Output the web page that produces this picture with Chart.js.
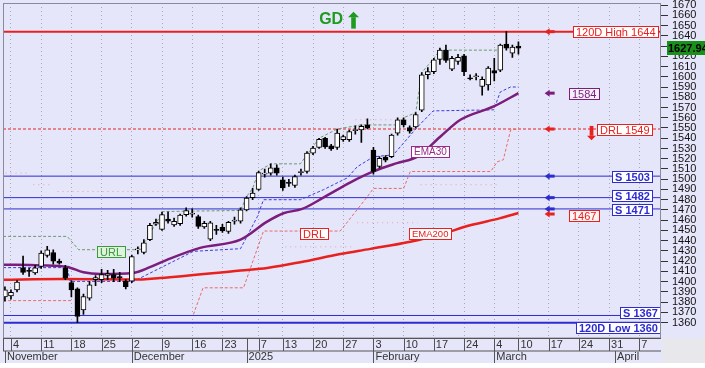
<!DOCTYPE html>
<html>
<head>
<meta charset="utf-8">
<script src="https://cdn.jsdelivr.net/npm/chart.js@4.4.1/dist/chart.umd.min.js"></script>
<style>
  html, body { margin:0; padding:0; background:#fff; }
  #wrap { width:705px; height:368px; }
</style>
</head>
<body>
<div id="wrap"><canvas id="chart" width="705" height="368"></canvas></div>
<script>
// ── Data (x = trading-day index, Nov 4 2024 = 0) ──
const firstDay = -1;
const opens  = [1385,1386,1392,1413.5,1411,1408.5,1415,1425.5,1428.5,1420,1413.5,1399,1393,1372.5,1384,1402,1402,1406,1407,1405,1400.5,
  1400.5,1431,1428.5,1441,1456,1451,1461,1455.5,1456.5,1465.5,1466,1463.5,1453.5,1441.5,1451,1453,1449,1459,1459,1470,
  1482,1490,1505,1506,1511,1499.5,1497,1494,1506.5,1507.5,1525.5,1531,1540,1532.5,1531,1538.5,1538.5,1547.5,1548,1553,
  1528.5,1512.5,1521.5,1522,1545,1558,1550.5,1551,1567.5,1602,1605,1617,1626,1607.5,1615,1620.5,1599,1600,1590.5,1592,
  1606,1606.5,1632,1623,1630];
const highs  = [1395,1392,1401,1425,1413,1416,1430,1434.5,1431,1422,1416,1401,1394,1388,1400,1406,1412,1411,1412,1409,1402,
  1426,1434,1441,1457,1461,1468,1468,1462,1466,1472,1471,1465,1459,1459,1455,1456,1459,1463,1472,1483,
  1491,1508,1510,1515,1514,1502,1500,1504,1510,1527,1532,1540,1541,1534,1549,1543,1548,1552,1553,1559,
  1531,1522,1523,1544,1560,1560,1552,1565,1604,1609,1618,1628,1631,1620,1622,1622,1602,1603,1600,1610,
  1618,1632,1644,1631,1634];
const lows   = [1381,1383,1390,1407,1405,1407,1413,1424,1417,1417,1402,1385,1360,1368,1382,1396,1399,1402,1400,1400,1393,
  1399,1427,1427,1440,1455,1450,1457,1454,1455,1464,1463,1452,1452,1440,1446,1448,1447,1456,1457,1469,
  1480,1489,1502,1504,1504,1489,1493,1492,1504,1506,1524,1530,1530,1528,1529,1537,1537,1544,1536,1549,
  1505,1511,1517,1521,1543,1551,1545,1550,1566,1598,1603,1612,1614,1606,1612,1601,1597,1597,1582,1587,
  1596,1605,1626,1619,1622];
const closes = [1392,1389.5,1399.5,1409,1410,1413.5,1428,1431,1420,1418,1403.5,1392,1366,1385.5,1397,1404,1407,1408,1403.5,1404,1395,
  1424.5,1432,1438,1455,1458,1465.5,1459,1459,1465,1469.5,1467,1454,1457,1457.5,1450,1449.5,1458,1460,1470,1481.5,
  1486.5,1506.5,1506,1511,1506,1491.5,1496,1502.5,1507.5,1525.5,1530.5,1539,1531.5,1529.5,1545,1541.5,1546.5,1548.5,1551.5,1550,
  1507.5,1520.5,1518.5,1543,1558,1553,1547,1563,1602,1605,1616.5,1626,1616,1618,1619,1605,1598,1601,1597.5,1608.5,
  1603.5,1631,1628,1629,1627.94];

const ema30Days  = [-1.3,4.9,9.3,12,14.8,20.2,23.1,25.9,31.3,38,42.4,45.1,48.2,51.7,56.2,60,63.9,67.3,71.1,74.4,79.9,84];
const ema30Vals  = [1416.6,1415.9,1414.4,1409.1,1407.5,1408.5,1414.4,1421.5,1433,1441,1458.6,1466.8,1471,1482,1497,1507.6,1515.7,1522,1541.7,1558,1571,1584];
const ema200Days = [-1.3,8.2,20.3,24.7,38,42.4,47.9,54.5,59.5,66.1,71.1,76,81,84];
const ema200Vals = [1401.8,1402.6,1402,1403.6,1411,1413.4,1419,1427,1432,1439,1446,1455,1462,1467];

const lowBandDays = [-1.3,9.3,9.8,20.3,30.2,38,40.8,41.8,47.9,51.7,55.7,57.3,60,63.3,67.3,69.9,79.9,81,82.7,84];
const lowBandVals = [1413.7,1413.7,1400.3,1400.3,1429.6,1432.2,1463.7,1480,1480,1489.7,1501.4,1512.1,1521.9,1523.8,1551.1,1566.7,1567.7,1585.2,1590,1590];

const urlDays = [-1.3,9.3,11.2,20.9,22.3,24,25.2,38,39,40,41,43,47.9,50,51,54,58,64,65,67,68,70,71,80.5];
const urlVals = [1444.2,1444.2,1431.2,1431.2,1440,1457,1468.5,1469.5,1483,1491,1508,1515,1515,1532,1540,1549,1553,1553,1560,1565,1604,1618,1626,1626];

const drlDays = [-1.3,10.1,null,30.2,31.8,38.5,41.8,54.5,59,60,65,66.1,79.4,80.5,81.5,82.7,84];
const drlVals = [1381.5,1381.5,null,1368,1394,1394,1449.4,1449.4,1483,1491,1491,1507.5,1507.5,1517,1519,1548,1549];

const dotUpDays = [-0.9,3.2,null,3.7,7,null,7.7,38,null,57,67.3];
const dotUpVals = [1506,1506,null,1494.6,1494.6,null,1488,1488,null,1558,1558];
const dotLoDays = [45.4,57,null,57.3,67.3,null,67.8,81];
const dotLoVals = [1434,1434,null,1457.5,1457.5,null,1494.6,1494.6];

const levelValues = [1644, 1549, 1503, 1482, 1471, 1367, 1360];
const levelNames  = ['120D High', 'DRL', 'S', 'S', 'S', 'S', '120D Low'];
const lastClose = 1627.94, lastEma30 = 1584, lastEma200 = 1467;

const weekTicks  = [0,5,10,15,20,25,30,35,39,41,45,50,55,60,65,70,75,80,84,89,94,99,104];
const weekLabels = ['4','11','18','25','2','9','16','23','','7','13','20','27','3','10','17','24','4','10','17','24','31','7'];
const monthTicks  = [-1,20,39,60,80,100];
const monthLabels = ['November','December','2025','February','March','April'];
const priceTickFirst = 1360, priceTickLast = 1670, priceTickStep = 10;

const X_MIN = -1.32, X_MAX = 107.6, Y_MIN = 1345.5, Y_MAX = 1672;

// ── Styles ──
const LAV = '#e6e6fa';
const FONT = '"Liberation Sans", Arial, sans-serif';
const RED = '#e8201e', PURPLE = '#7c1d7c', BLUE = '#2c2cd0', GREEN = '#1e9a1e';
// right = gap from plot edge, dy = nudge so touching boxes don't overlap
const LEVEL_STYLE = [
  { color:RED,  width:2, dash:[],    right:3, dy:0,   bold:false },
  { color:RED,  width:1, dash:[3,2], right:9, dy:0,   bold:false },
  { color:BLUE, width:1, dash:[],    right:9, dy:0,   bold:true },
  { color:BLUE, width:1, dash:[],    right:9, dy:-2,  bold:true },
  { color:BLUE, width:1, dash:[],    right:9, dy:1,   bold:true },
  { color:BLUE, width:1, dash:[],    right:1, dy:-3,  bold:true },
  { color:BLUE, width:2, dash:[],    right:1, dy:4.5, bold:true },
];

function pts(xs, ys) { return xs.map((x, i) => x === null ? {x:NaN, y:null} : {x, y:ys[i]}); }
const dayX = opens.map((_, i) => firstDay + i);

function lineDs(data, color, width, dash, order, extra) {
  return Object.assign({ type:'line', data, borderColor:color, borderWidth:width, borderDash:dash,
    pointRadius:0, tension:0, spanGaps:false, order }, extra || {});
}

const datasets = [
  { type:'bar', data:dayX.map((x, i) => ({x, y:[opens[i], closes[i]]})), barThickness:5, grouped:false,
    backgroundColor:c => closes[c.dataIndex] >= opens[c.dataIndex] ? '#ffffff' : '#000000',
    borderColor:'#000', borderWidth:1, borderSkipped:false, order:0 },
  { type:'bar', data:dayX.map((x, i) => ({x, y:[lows[i], highs[i]]})), barThickness:1, grouped:false,
    backgroundColor:'#000', borderWidth:0, order:1 },
  lineDs(pts(ema30Days, ema30Vals), PURPLE, 2.5, [], 2, { cubicInterpolationMode:'monotone' }),
  lineDs(pts(ema200Days, ema200Vals), RED, 2.5, [], 3, { cubicInterpolationMode:'monotone' }),
  lineDs(pts(lowBandDays, lowBandVals), '#3a3ae0', 1, [3,2], 4),
  lineDs(pts(urlDays, urlVals), '#6a9a6a', 1, [3,2], 4),
  lineDs(pts(drlDays, drlVals), '#e86a6a', 1, [3,2], 4),
  lineDs(pts(dotUpDays, dotUpVals), '#e8a0a8', 1, [1,4], 5),
  lineDs(pts(dotLoDays, dotLoVals), '#e8a0a8', 1, [1,4], 5),
];
levelValues.forEach((v, i) => {
  const s = LEVEL_STYLE[i];
  datasets.push(lineDs([{x:X_MIN, y:v}, {x:X_MAX, y:v}], s.color, s.width, s.dash, 6));
});

// ── Drawing helpers ──
function box(ctx, text, x, y, align, color, fill, bold, size) {
  ctx.font = (bold ? 'bold ' : '') + (size || 11) + 'px ' + FONT;
  const w = Math.ceil(ctx.measureText(text).width) + 5, h = 11;
  let x0 = align === 'right' ? x - w : align === 'center' ? x - w / 2 : x;
  x0 = Math.round(x0) + 0.5;
  const y0 = Math.round(y - h / 2) + 0.5;
  ctx.fillStyle = fill; ctx.fillRect(x0, y0, w, h);
  ctx.strokeStyle = color; ctx.lineWidth = 1; ctx.setLineDash([]); ctx.strokeRect(x0, y0, w, h);
  ctx.fillStyle = color; ctx.textAlign = 'left'; ctx.textBaseline = 'middle';
  ctx.fillText(text, x0 + 2.5, y0 + h / 2 + 0.5);
}
function arrowLeft(ctx, x, y, color) {
  ctx.fillStyle = color;
  ctx.beginPath(); ctx.moveTo(x, y); ctx.lineTo(x + 5, y - 3.5); ctx.lineTo(x + 5, y + 3.5); ctx.closePath(); ctx.fill();
  ctx.fillRect(x + 4, y - 1.5, 6, 3);
}
function arrowV(ctx, x, yTail, yTip, color, half) {
  const dir = yTip > yTail ? 1 : -1;
  ctx.fillStyle = color;
  ctx.fillRect(x - half / 2.4, Math.min(yTail, yTip - dir * half), half / 1.2, Math.abs(yTip - dir * half - yTail));
  ctx.beginPath(); ctx.moveTo(x, yTip); ctx.lineTo(x - half, yTip - dir * half); ctx.lineTo(x + half, yTip - dir * half);
  ctx.closePath(); ctx.fill();
}

const bgPlugin = {
  id:'bg',
  beforeDraw(chart) {
    const { ctx, chartArea:a, width, height } = chart;
    ctx.save();
    ctx.fillStyle = '#fff'; ctx.fillRect(0, 0, width, height);
    ctx.fillStyle = LAV; ctx.fillRect(0, 0, width, 363);
    ctx.fillStyle = '#e8e8ec'; ctx.fillRect(a.right + 1, a.bottom + 1, width - a.right, 363 - a.bottom - 1);
    ctx.restore();
  }
};

const decoPlugin = {
  id:'deco',
  afterDatasetsDraw(chart) {
    const { ctx, chartArea:a, scales:{ x, y } } = chart;
    ctx.save();
    // level boxes
    levelValues.forEach((v, i) => {
      const s = LEVEL_STYLE[i];
      box(ctx, levelNames[i] + ' ' + v, a.right - s.right, y.getPixelForValue(v) + s.dy, 'right', s.color, '#fff', s.bold);
    });
    box(ctx, String(lastEma30), x.getPixelForValue(94.8), y.getPixelForValue(lastEma30), 'center', PURPLE, '#f4f0fa', false);
    box(ctx, String(lastEma200), x.getPixelForValue(94.8), y.getPixelForValue(lastEma200) + 2, 'center', RED, '#fff4f4', false);
    // line tags
    box(ctx, 'URL', x.getPixelForValue(16.6), y.getPixelForValue(1429.3), 'center', '#3c9a3c', '#def2de', false, 11);
    box(ctx, 'DRL', x.getPixelForValue(50.1), y.getPixelForValue(1446.8), 'center', RED, '#fff', false, 11);
    box(ctx, 'EMA30', x.getPixelForValue(69.4), y.getPixelForValue(1526.8), 'center', '#9a2a8a', '#fff', false, 10);
    box(ctx, 'EMA200', x.getPixelForValue(69.4), y.getPixelForValue(1446.8), 'center', RED, '#fff', false, 9.5);
    // arrows at the right
    const ax = x.getPixelForValue(89) - 4;
    [[1644, RED], [lastEma30, PURPLE], [1549, RED], [1503, BLUE], [1482, BLUE], [1471, BLUE]].forEach(([v, c]) =>
      arrowLeft(ctx, ax, y.getPixelForValue(v), c));
    arrowLeft(ctx, ax, y.getPixelForValue(lastEma200) + 1, RED);
    arrowV(ctx, x.getPixelForValue(96.1), y.getPixelForValue(1552), y.getPixelForValue(1538), RED, 4.5);
    // GD signal
    ctx.font = 'bold 16px ' + FONT; ctx.fillStyle = GREEN; ctx.textAlign = 'center'; ctx.textBaseline = 'middle';
    ctx.fillText('GD', x.getPixelForValue(53), y.getPixelForValue(1656));
    arrowV(ctx, x.getPixelForValue(56.7), y.getPixelForValue(1647), y.getPixelForValue(1663.5), GREEN, 5.5);
    ctx.restore();
  },
  afterDraw(chart) {
    const { ctx, chartArea:a, scales:{ x, y } } = chart;
    ctx.save();
    // plot frame
    ctx.strokeStyle = '#8a8a9a'; ctx.lineWidth = 1;
    ctx.strokeRect(a.left + 0.5, a.top + 0.5, a.right - a.left - 1, a.bottom - a.top);
    // time axis rows
    const r1 = Math.round(a.bottom) + 0.5, r2 = r1 + 12.5, r3 = 363;
    ctx.strokeStyle = '#555';
    ctx.beginPath();
    ctx.moveTo(a.left, r1); ctx.lineTo(a.right, r1);
    ctx.moveTo(a.left, r2); ctx.lineTo(a.right, r2);
    weekTicks.forEach(t => { const px = Math.round(x.getPixelForValue(t)) + 0.5; ctx.moveTo(px, r1); ctx.lineTo(px, r2); });
    monthTicks.forEach(t => { const px = Math.round(x.getPixelForValue(t)) + 0.5; ctx.moveTo(px, r2); ctx.lineTo(px, r3); });
    ctx.moveTo(a.left + 0.5, r1); ctx.lineTo(a.left + 0.5, r2);
    ctx.stroke();
    // last price tag
    const py = y.getPixelForValue(lastClose);
    ctx.fillStyle = '#1a8f1a'; ctx.fillRect(a.right + 6, Math.round(py - 7), 44, 14);
    ctx.font = 'bold 11px ' + FONT; ctx.fillStyle = '#000'; ctx.textAlign = 'left'; ctx.textBaseline = 'middle';
    ctx.fillText(lastClose.toFixed(2), a.right + 7, py + 0.5);
    ctx.restore();
  }
};

function noPad(s) { s.paddingLeft = 0; s.paddingRight = 0; }

new Chart(document.getElementById('chart'), {
  type:'bar',
  data:{ datasets },
  options:{
    responsive:false, animation:false, devicePixelRatio:1,
    layout:{ padding:{ left:3, top:3, right:0, bottom:5 } },
    plugins:{ legend:{ display:false }, tooltip:{ enabled:false } },
    scales:{
      x:{ type:'linear', position:'bottom', min:X_MIN, max:X_MAX, weight:0, offset:false,
        afterBuildTicks:s => { s.ticks = weekTicks.map(v => ({ value:v })); },
        afterFit:s => { s.height = 12.5; noPad(s); },
        ticks:{ autoSkip:false, maxRotation:0, align:'start', labelOffset:2, padding:1,
          color:'#333', font:{ size:11, family:FONT },
          callback:v => weekLabels[weekTicks.indexOf(v)] },
        grid:{ drawTicks:false, lineWidth:1, offset:false,
          color:c => (c.tick && weekLabels[weekTicks.indexOf(c.tick.value)] === '') ? 'rgba(0,0,0,0)' : '#a8a8bc' },
        border:{ display:false, dash:[1,3] } },
      xm:{ type:'linear', position:'bottom', min:X_MIN, max:X_MAX, weight:1, offset:false,
        afterBuildTicks:s => { s.ticks = monthTicks.map(v => ({ value:v })); },
        afterFit:s => { s.height = 13; noPad(s); },
        ticks:{ autoSkip:false, maxRotation:0, align:'start', labelOffset:2, padding:0,
          color:'#333', font:{ size:11, family:FONT },
          callback:v => monthLabels[monthTicks.indexOf(v)] },
        grid:{ display:false, drawTicks:false, offset:false }, border:{ display:false } },
      y:{ type:'linear', position:'right', min:Y_MIN, max:Y_MAX,
        afterBuildTicks:s => {
          const t = [];
          for (let v = priceTickFirst; v <= priceTickLast; v += priceTickStep) t.push({ value:v });
          s.ticks = t;
        },
        afterFit:s => { s.width = 44; s.paddingTop = 0; s.paddingBottom = 0; },
        ticks:{ autoSkip:false, padding:4, color:'#111', font:{ size:11, family:FONT },
          callback:v => String(v) },
        grid:{ drawOnChartArea:false, tickLength:7, tickColor:'#333' },
        border:{ display:false } }
    }
  },
  plugins:[bgPlugin, decoPlugin]
});
</script>
</body>
</html>
